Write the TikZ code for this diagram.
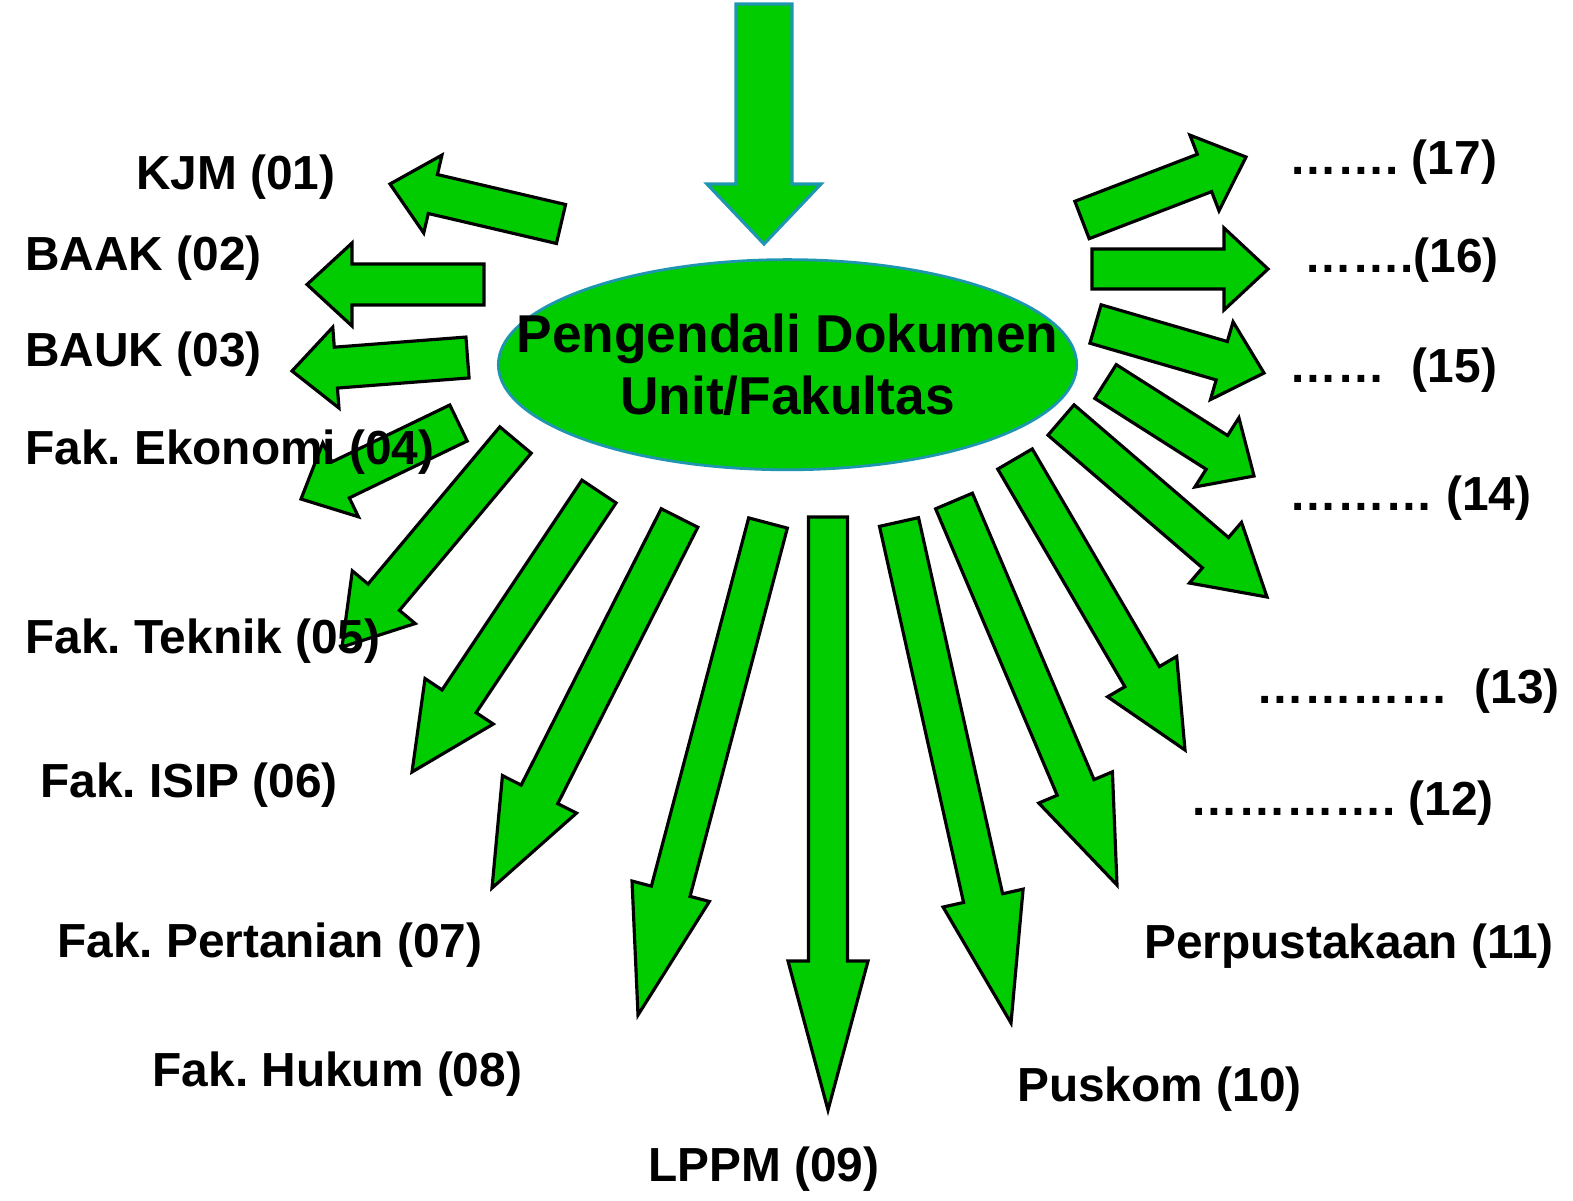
\documentclass[tikz,border=0pt]{standalone}
\usepackage{fontspec}
\setmainfont{Liberation Sans}
\usepackage{tikz}
\usetikzlibrary{calc,shapes.geometric}

\definecolor{arrgreen}{RGB}{0,204,0}
\definecolor{rimblue}{RGB}{30,150,175}

\tikzset{
  arr/.style={draw=black,fill=arrgreen,line width=0.9pt,line join=miter},
  lbl/.style={anchor=base west,inner sep=0pt,font=\frenchspacing\bfseries\fontsize{13.6}{16}\selectfont},
}

% block arrow: [style]{tail}{tip}{half shaft}{half head}{head length}, sizes in px
\newcommand{\blockarr}[6][arr]{%
  \coordinate (#2-h) at ($(#3)!#6*0.01cm!(#2)$);
  \draw[#1] ($(#2)!#4*0.01cm!90:(#3)$) -- ($(#2-h)!#4*0.01cm!90:(#3)$)
    -- ($(#2-h)!#5*0.01cm!90:(#3)$) -- (#3)
    -- ($(#2-h)!#5*0.01cm!-90:(#3)$) -- ($(#2-h)!#4*0.01cm!-90:(#3)$)
    -- ($(#2)!#4*0.01cm!-90:(#3)$) -- cycle;}

\begin{document}
\begin{tikzpicture}[x=0.01cm,y=-0.01cm]
  \useasboundingbox (0,0) rectangle (1573,1200);

  % centre
  \node[ellipse,draw=rimblue,line width=0.8pt,fill=arrgreen,minimum width=5.78cm,minimum height=2.1cm,inner sep=0pt] (pd) at (787.5,364.7) {};
  \node[align=center,font=\bfseries\fontsize{15.15}{17.9}\selectfont] (pdt) at (pd) {Pengendali Dokumen\\Unit/Fakultas};

  % incoming
  \coordinate (tin) at (764,4); \coordinate (pin) at (764,244);
  \blockarr[arr,draw=rimblue]{tin}{pin}{28}{57}{60}

  % left
  \coordinate (t01) at (561,224);     \coordinate (p01) at (390,184);
  \coordinate (t02) at (484,284.5);   \coordinate (p02) at (307,284.5);
  \coordinate (t03) at (467.5,357.5); \coordinate (p03) at (292,371);
  \coordinate (t04) at (458.5,423);   \coordinate (p04) at (301,499);
  \blockarr{t01}{p01}{20}{40}{44}
  \blockarr{t02}{p02}{20.5}{41.5}{45}
  \blockarr{t03}{p03}{20.5}{40.5}{44}
  \blockarr{t04}{p04}{20}{41}{44}

  % bottom
  \coordinate (t05) at (515.5,440);   \coordinate (p05) at (342,647);
  \coordinate (t06) at (599,491.5);   \coordinate (p06) at (412,772);
  \coordinate (t07) at (679.5,518);   \coordinate (p07) at (492,888);
  \coordinate (t08) at (768,523);     \coordinate (p08) at (638,1015);
  \coordinate (t09) at (828,517);     \coordinate (p09) at (828,1110);
  \coordinate (t10) at (899,522);     \coordinate (p10) at (1011,1023);
  \coordinate (t11) at (954,501);     \coordinate (p11) at (1117,885);
  \coordinate (t12) at (1015,459);    \coordinate (p12) at (1185,750);
  \coordinate (t13) at (1061,420);    \coordinate (p13) at (1267,597);
  \blockarr{t05}{p05}{20.5}{41}{65}
  \blockarr{t06}{p06}{20.5}{41}{85}
  \blockarr{t07}{p07}{20.5}{41.5}{105}
  \blockarr{t08}{p08}{20}{40}{128}
  \blockarr{t09}{p09}{19.5}{40}{149}
  \blockarr{t10}{p10}{20}{41}{128}
  \blockarr{t11}{p11}{20}{40}{106}
  \blockarr{t12}{p12}{20}{40}{85}
  \blockarr{t13}{p13}{20}{40}{68}

  % right
  \coordinate (t14) at (1105.5,381.5); \coordinate (p14) at (1254,476);
  \coordinate (t15) at (1095.5,324);   \coordinate (p15) at (1264,373);
  \coordinate (t16) at (1092,269);     \coordinate (p16) at (1268,269);
  \coordinate (t17) at (1082,220);     \coordinate (p17) at (1246,157);
  \blockarr{t14}{p14}{20}{41}{44}
  \blockarr{t15}{p15}{20}{40.5}{44}
  \blockarr{t16}{p16}{20}{41}{44}
  \blockarr{t17}{p17}{20}{40.5}{44.5}

  % labels
  \node[lbl] (l01) at (135.5,189.6) {KJM (01)};
  \node[lbl] (l02) at (24.5,270) {BAAK (02)};
  \node[lbl] (l03) at (24.5,366) {BAUK (03)};
  \node[lbl] (l04) at (24.5,464.5) {Fak. Ekonomi (04)};
  \node[lbl] (l05) at (24.5,653) {Fak. Teknik (05)};
  \node[lbl] (l06) at (39.5,797) {Fak. ISIP (06)};
  \node[lbl] (l07) at (56.5,957) {Fak. Pertanian (07)};
  \node[lbl] (l08) at (152,1086) {Fak. Hukum (08)};
  \node[lbl] (l09) at (647.5,1181) {LPPM (09)};
  \node[lbl] (l10) at (1016.5,1101) {Puskom (10)};
  \node[lbl] (l11) at (1143.5,958) {Perpustakaan (11)};
  \node[lbl] (l12) at (1190,815.5) {…………. (12)};
  \node[lbl] (l13) at (1256,703) {…………\ \ (13)};
  \node[lbl] (l14) at (1289,510.6) {……… (14)};
  \node[lbl] (l15) at (1289,382) {……\ \ (15)};
  \node[lbl] (l16) at (1304,272) {…….(16)};
  \node[lbl] (l17) at (1289,174) {……. (17)};
\end{tikzpicture}
\end{document}
